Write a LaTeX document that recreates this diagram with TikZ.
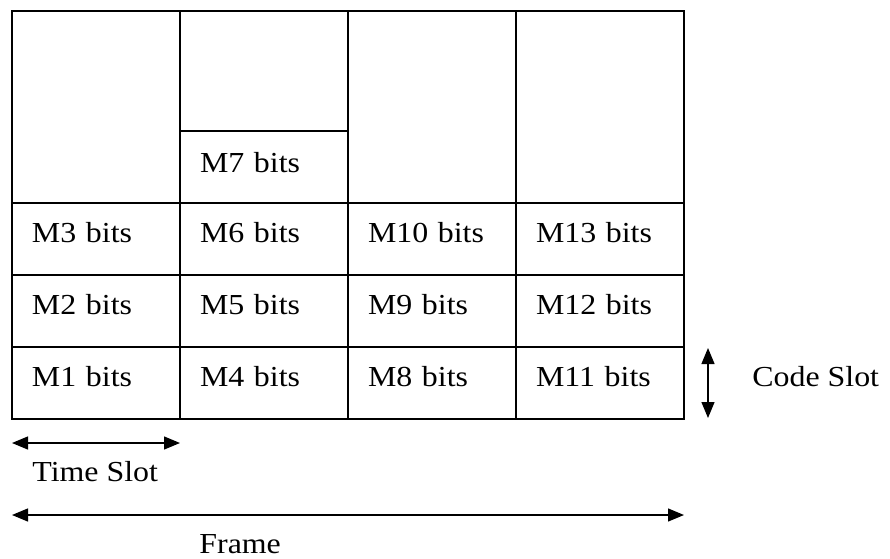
\documentclass[tikz,border=0pt]{standalone}
\usepackage{fontspec}
\setmainfont[FakeStretch=1.1]{Liberation Serif}
\usetikzlibrary{positioning, arrows.meta}
\tikzset{font=\fontsize{14.5}{17}\selectfont}
\tikzstyle{slot} = [rectangle, draw=black, line width=0.65pt, outer sep=0pt,%
minimum width=84pt, minimum height=36pt, inner xsep=10pt, inner ysep=0pt,%
text width=64pt, align=left, text height=3pt, text depth=0pt]
\tikzstyle{blank} = [rectangle, draw=black, line width=0.65pt, outer sep=0pt,%
minimum width=84pt, inner sep=0pt]
\tikzstyle{label} = [inner sep=0pt, anchor=base west]
\tikzstyle{arrow} = [line width=0.65pt, {Triangle[length=8pt,width=6.5pt]}-{Triangle[length=8pt,width=6.5pt]}]

\begin{document}
\begin{tikzpicture}[x=0.5pt, y=-0.5pt]
    \useasboundingbox (0,0) rectangle (890,558);

    % first time slot
    \node (m1) [slot] at (96,383) {M1 bits};
    \node (m2) [slot, above=0pt of m1] {M2 bits};
    \node (m3) [slot, above=0pt of m2] {M3 bits};
    \node (e1) [blank, above=0pt of m3, minimum height=96pt] {};

    % second time slot
    \node (m4) [slot, right=0pt of m1] {M4 bits};
    \node (m5) [slot, above=0pt of m4] {M5 bits};
    \node (m6) [slot, above=0pt of m5] {M6 bits};
    \node (m7) [slot, above=0pt of m6, text height=5pt] {M7 bits};
    \node (e2) [blank, above=0pt of m7, minimum height=60pt] {};

    % third time slot
    \node (m8) [slot, right=0pt of m4] {M8 bits};
    \node (m9) [slot, above=0pt of m8] {M9 bits};
    \node (m10) [slot, above=0pt of m9] {M10 bits};
    \node (e3) [blank, above=0pt of m10, minimum height=96pt] {};

    % fourth time slot
    \node (m11) [slot, right=0pt of m8] {M11 bits};
    \node (m12) [slot, above=0pt of m11] {M12 bits};
    \node (m13) [slot, above=0pt of m12] {M13 bits};
    \node (e4) [blank, above=0pt of m13, minimum height=96pt] {};

    \coordinate (tsLeft) at ([yshift=-12pt]m1.south west);
    \coordinate (tsRight) at ([yshift=-12pt]m1.south east);
    \coordinate (frLeft) at ([yshift=-48pt]m1.south west);
    \coordinate (frRight) at ([yshift=-48pt]m11.south east);
    \coordinate (csTop) at ([xshift=12pt,yshift=-0.5pt]m11.north east);
    \coordinate (csBottom) at ([xshift=12pt,yshift=0.5pt]m11.south east);

    \node (timeSlot) [label] at ([xshift=10pt,yshift=-31pt]m1.south west) {Time Slot};
    \node (frame) [label] at ([xshift=93.5pt,yshift=-67pt]m1.south west) {Frame};
    \node (codeSlot) [label] at ([xshift=34pt]m11.base east) {Code Slot};

    \draw [arrow] (tsLeft) -- (tsRight);
    \draw [arrow] (frLeft) -- (frRight);
    \draw [arrow] (csTop) -- (csBottom);
\end{tikzpicture}
\end{document}
